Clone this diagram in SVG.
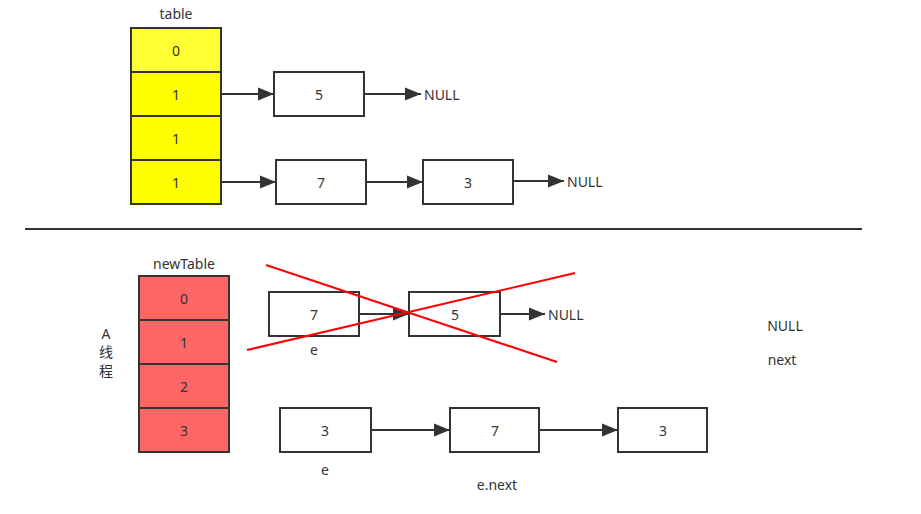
<svg xmlns="http://www.w3.org/2000/svg" width="921" height="514" viewBox="0 0 921 514">
<defs>
<marker id="ah" viewBox="0 0 10 10" refX="10" refY="5" markerWidth="16" markerHeight="16" markerUnits="userSpaceOnUse" orient="auto"><path d="M0,1 L10,5 L0,9 Z" fill="#333"/></marker>
<style>
text{font-family:"Noto Sans","Noto Sans CJK SC",sans-serif;font-size:14px;fill:#333;text-anchor:middle;dominant-baseline:central}
.box{fill:#fff;stroke:#333;stroke-width:2}
.y{fill:#ffff00;stroke:#333;stroke-width:2}
.r{fill:#ff6666;stroke:#333;stroke-width:2}
.c{stroke:#333;stroke-width:2;fill:none;marker-end:url(#ah)}
.x{stroke:#ff0000;stroke-width:2;fill:none}
.l{text-anchor:start}
</style>
</defs>
<rect width="921" height="514" fill="#fff"/>
<g id="table">
<text x="176" y="13">table</text>
<rect class="y" x="131" y="28" width="90" height="44" style="fill:#ffff33"/><text x="176" y="50">0</text>
<rect class="y" x="131" y="72" width="90" height="44"/><text x="176" y="94">1</text>
<rect class="y" x="131" y="116" width="90" height="44"/><text x="176" y="138">1</text>
<rect class="y" x="131" y="160" width="90" height="44"/><text x="176" y="182">1</text>
</g>
<g id="n5top"><rect class="box" x="274" y="72" width="90" height="44"/><text x="319" y="94">5</text></g>
<g id="n7top"><rect class="box" x="276" y="160" width="90" height="44"/><text x="321" y="182">7</text></g>
<g id="n3top"><rect class="box" x="423" y="160" width="90" height="44"/><text x="468" y="182">3</text></g>
<g id="null1"><text class="l" x="424" y="94">NULL</text></g>
<g id="null2"><text class="l" x="567" y="181">NULL</text></g>
<line x1="25" y1="229" x2="862" y2="229" stroke="#333" stroke-width="2"/>
<g id="newTable">
<text x="184" y="263">newTable</text>
<rect class="r" x="139" y="276" width="90" height="44"/><text x="184" y="298">0</text>
<rect class="r" x="139" y="320" width="90" height="44"/><text x="184" y="342">1</text>
<rect class="r" x="139" y="364" width="90" height="44"/><text x="184" y="386">2</text>
<rect class="r" x="139" y="408" width="90" height="44"/><text x="184" y="430">3</text>
</g>
<g id="threadA"><text x="106" y="333">A</text><text x="106" y="351">线</text><text x="106" y="370">程</text></g>
<g id="n7mid"><rect class="box" x="269" y="292" width="90" height="44"/><text x="314" y="314">7</text><text x="314" y="349">e</text></g>
<g id="n5mid"><rect class="box" x="409" y="292" width="91" height="44"/><text x="455" y="314">5</text></g>
<g id="null3"><text class="l" x="548" y="314">NULL</text></g>
<g id="n3bot"><rect class="box" x="280" y="408" width="91" height="44"/><text x="325" y="430">3</text><text x="325" y="469">e</text></g>
<g id="n7bot"><rect class="box" x="450" y="408" width="89" height="44"/><text x="495" y="430">7</text><text x="497" y="484">e.next</text></g>
<g id="n3bot2"><rect class="box" x="618" y="408" width="89" height="44"/><text x="663" y="430">3</text></g>
<g id="side"><text x="785" y="325">NULL</text><text x="782" y="359">next</text></g>
<g id="connectors">
<line class="c" x1="222" y1="94" x2="274" y2="94"/>
<line class="c" x1="365" y1="94" x2="421" y2="94"/>
<line class="c" x1="222" y1="182" x2="276" y2="182"/>
<line class="c" x1="367" y1="182" x2="423" y2="182"/>
<line class="c" x1="514" y1="181" x2="564" y2="181"/>
<line class="c" x1="360" y1="314" x2="409" y2="314"/>
<line class="c" x1="501" y1="314" x2="545" y2="314"/>
<line class="c" x1="372" y1="430" x2="450" y2="430"/>
<line class="c" x1="540" y1="430" x2="618" y2="430"/>
</g>
<g id="cross">
<line class="x" x1="266" y1="265" x2="557" y2="362"/>
<line class="x" x1="247" y1="350" x2="575" y2="273"/>
</g>
</svg>
